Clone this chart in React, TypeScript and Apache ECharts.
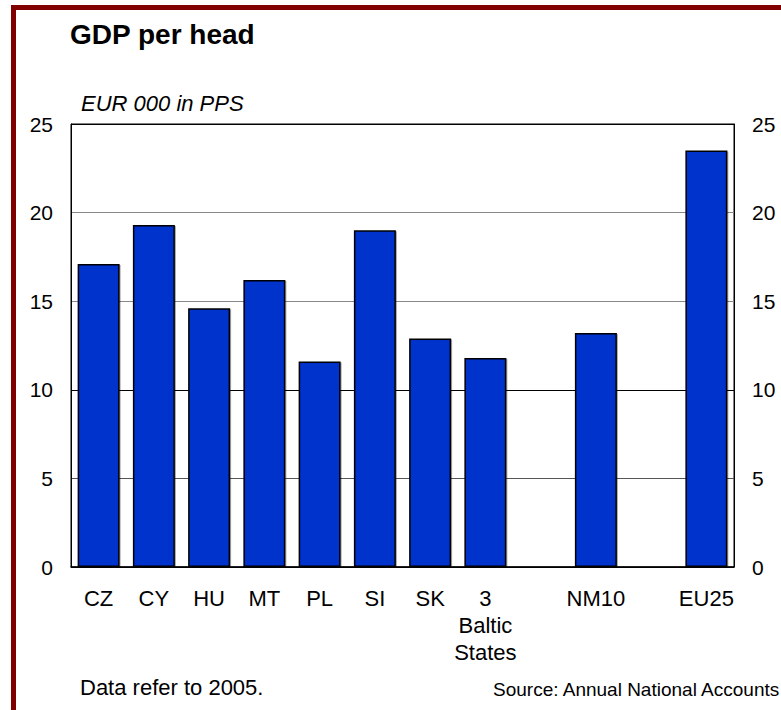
import React, { useEffect, useRef } from "react";
import * as echarts from "echarts";

const categories = ["CZ", "CY", "HU", "MT", "PL", "SI", "SK", "3\nBaltic\nStates", "", "NM10", "", "EU25"];
const gdpPerHead: (number | string)[] = [17.1, 19.3, 14.6, 16.2, 11.6, 19.0, 12.9, 11.8, "-", 13.2, "-", 23.5];
const yTicks = [0, 5, 10, 15, 20, 25];

const FONT = "Arial, 'Liberation Sans', sans-serif";

export default function App() {
  const ref = useRef<HTMLDivElement>(null);
  useEffect(() => {
    if (!ref.current) return;
    const chart = echarts.init(ref.current, undefined, { renderer: "svg" });
    const yAxisBase = {
      type: "value" as const,
      min: yTicks[0],
      max: yTicks[yTicks.length - 1],
      interval: 5,
      axisLine: { show: true, lineStyle: { color: "#000", width: 1 } },
      axisTick: { show: false },
      axisLabel: { color: "#000", fontSize: 21, fontFamily: FONT, margin: 18 },
    };
    chart.setOption({
      animation: false,
      backgroundColor: "#fff",
      textStyle: { fontFamily: FONT },
      grid: {
        left: 71,
        top: 124,
        right: 47,
        bottom: 143,
        show: true,
        borderColor: "#000",
        borderWidth: 1,
        backgroundColor: "transparent",
      },
      xAxis: {
        type: "category",
        data: categories,
        axisLine: { show: true, lineStyle: { color: "#000", width: 1.5 } },
        axisTick: { show: false },
        axisLabel: {
          interval: 0,
          color: "#000",
          fontSize: 22,
          lineHeight: 27,
          fontFamily: FONT,
          margin: 18,
        },
      },
      yAxis: [
        {
          ...yAxisBase,
          position: "left",
          splitLine: {
            show: true,
            lineStyle: { color: ["#000", "#555", "#000", "#888", "#888", "#000"], width: 1 },
          },
        },
        {
          ...yAxisBase,
          position: "right",
          splitLine: { show: false },
        },
      ],
      series: [
        {
          type: "bar",
          data: gdpPerHead,
          barCategoryGap: "24%",
          itemStyle: {
            color: "#0033CC",
            borderColor: "#000",
            borderWidth: 1.5,
            shadowColor: "rgba(0,0,0,0.35)",
            shadowOffsetX: 1,
            shadowOffsetY: 1,
            shadowBlur: 0,
          },
        },
      ],
      graphic: [
        {
          type: "rect",
          shape: { x: 13.5, y: 7.5, width: 820, height: 820 },
          style: { fill: "none", stroke: "#800000", lineWidth: 5 },
          silent: true,
        },
        {
          type: "text",
          x: 70,
          y: 34,
          style: {
            text: "GDP per head",
            font: `bold 28px ${FONT}`,
            fill: "#000",
            verticalAlign: "middle",
          },
        },
        {
          type: "text",
          x: 81,
          y: 103,
          style: {
            text: "EUR 000 in PPS",
            font: `italic 22px ${FONT}`,
            fill: "#000",
            verticalAlign: "middle",
          },
        },
        {
          type: "text",
          x: 80,
          y: 687,
          style: {
            text: "Data refer to 2005.",
            font: `22px ${FONT}`,
            fill: "#000",
            verticalAlign: "middle",
          },
        },
        {
          type: "text",
          x: 493,
          y: 689,
          style: {
            text: "Source: Annual National Accounts",
            font: `19px ${FONT}`,
            fill: "#000",
            verticalAlign: "middle",
          },
        },
      ],
    });
    return () => chart.dispose();
  }, []);
  return (
    <div
      ref={ref}
      style={{ position: "fixed", left: 0, top: 0, width: 781, height: 710, overflow: "hidden" }}
    />
  );
}
